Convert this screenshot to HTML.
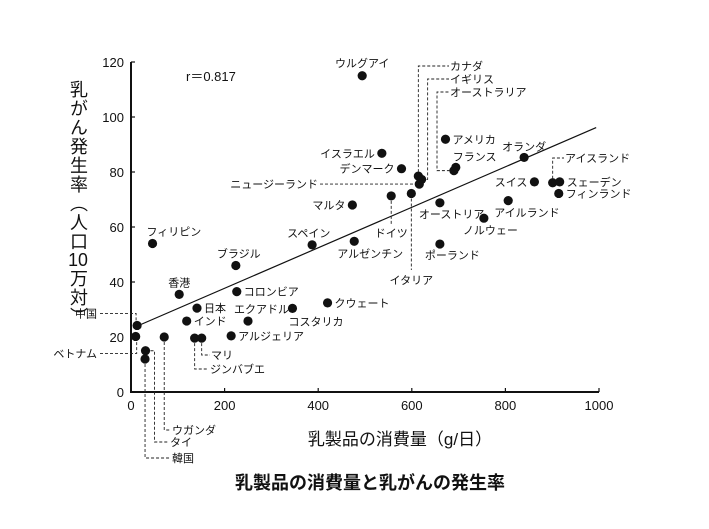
<!DOCTYPE html>
<html><head><meta charset="utf-8"><style>
html,body{margin:0;padding:0;background:#fff;}
body{width:709px;height:524px;position:relative;overflow:hidden;font-family:"Liberation Sans","Noto Sans CJK JP",sans-serif;}
svg text{font-family:"Liberation Sans","Noto Sans CJK JP",sans-serif;fill:#111;}
#ytitle{position:absolute;left:66px;top:80px;writing-mode:vertical-rl;font-size:18px;line-height:24px;color:#111;letter-spacing:1px;}
</style></head><body>
<div id="ytitle">乳がん発生率（人口<span style="text-combine-upright:all">10</span>万対）</div>
<svg id="chart" width="709" height="524"></svg>
<script>
const names=["中国","ベトナム","タイ","韓国","ウガンダ","フィリピン","香港","日本","インド","マリ","ジンバブエ","ブラジル","コロンビア","エクアドル","アルジェリア","コスタリカ","スペイン","クウェート","ウルグアイ","イスラエル","デンマーク","マルタ","アルゼンチン","ドイツ","イタリア","カナダ","イギリス","ニュージーランド","フランス","オーストラリア","アメリカ","オーストリア","ポーランド","ノルウェー","アイルランド","オランダ","スイス","アイスランド","スェーデン","フィンランド"];
const xVals=[13,10,31,30,71,46,103,141,119,151,136,224,226,250,214,345,387,420,494,536,578,473,477,556,599,614,621,616,694,690,672,660,660,754,806,840,862,901,916,914];
const yVals=[24.2,20.2,15,12,20,54,35.5,30.5,25.8,19.6,19.6,46,36.5,25.8,20.4,30.4,53.5,32.4,115,86.8,81.2,68,54.8,71.3,72.2,78.5,77.3,75.6,81.7,80.5,91.9,68.8,53.8,63.2,69.6,85.3,76.4,76.1,76.4,72.2];
const xTicks=[0,200,400,600,800,1000];
const yTicks=[0,20,40,60,80,100,120];
const trend=[23.0,0.0736];
// label placement: [mode, dx, dy] ; modes: r=right, l=left, a=anchored start offset, c=centered, k=leader
const lab={"中国":["k"],"ベトナム":["k"],"タイ":["k"],"韓国":["k"],"ウガンダ":["k"],"マリ":["k"],"ジンバブエ":["k"],"カナダ":["k"],"イギリス":["k"],"ニュージーランド":["k"],"オーストラリア":["k"],"ドイツ":["k"],"イタリア":["k"],"アイスランド":["k"],
"フィリピン":["a",-6,-8],"香港":["a",-11,-8],"ブラジル":["a",-19,-8],"スペイン":["a",-25,-8],"エクアドル":["a",-14,-8],"コスタリカ":["a",-4,17],"ウルグアイ":["c",0,-9],"アルゼンチン":["a",-17,16],"オーストリア":["a",-21,15],"ポーランド":["a",-15,15],"ノルウェー":["a",-21,16],"アイルランド":["a",-14,16],"オランダ":["a",-22,-7],"フランス":["a",-3,-7],
"イスラエル":["l"],"デンマーク":["l"],"マルタ":["l"],"スイス":["l"]};
const X0=131,X1=599,Y0=392,Y1=62;
const sx=v=>X0+(v-0)/1000*(X1-X0);
const sy=v=>Y0-(v-0)/120*(Y0-Y1);
const svg=document.getElementById('chart');
const NS="http://www.w3.org/2000/svg";
function mk(t,a){const e=document.createElementNS(NS,t);for(const k in a)e.setAttribute(k,a[k]);svg.appendChild(e);return e;}
// axes
let e=mk('line',{x1:X0,y1:Y1,x2:X0,y2:Y0+1,stroke:'#111','stroke-width':2});


e=mk('line',{x1:X0-1,y1:Y0,x2:X1,y2:Y0,stroke:'#111','stroke-width':2});


xTicks.forEach(t=>{
 e=mk('line',{x1:sx(t),y1:Y0,x2:sx(t),y2:Y0-4,stroke:'#111','stroke-width':1.2});
 
 
 e=mk('text',{x:sx(t),y:Y0+18,'text-anchor':'middle','font-size':13});e.textContent=t;
 
 
});
yTicks.forEach(t=>{
 e=mk('line',{x1:X0,y1:sy(t),x2:X0+4,y2:sy(t),stroke:'#111','stroke-width':1.2});
 
 
 e=mk('text',{x:X0-7,y:sy(t)+5,'text-anchor':'end','font-size':13});e.textContent=t;
 
 
});
// trend line
e=mk('line',{x1:sx(13),y1:sy(trend[0]+trend[1]*13),x2:sx(994),y2:sy(trend[0]+trend[1]*994),stroke:'#111','stroke-width':1.2});


function txt(x,y,s,anchor){const t=mk('text',{x:x,y:y,'font-size':11,'text-anchor':anchor||'start'});t.textContent=s;
 
 
 return t;}
function dash(pts){const p=mk('polyline',{points:pts.map(q=>q.join(',')).join(' '),fill:'none',stroke:'#222','stroke-width':0.9,'stroke-dasharray':'3,2'});
 
 }
// leader definitions relative to point px,py
const leaders={
"中国":(px,py)=>{dash([[100,py-12],[px-1,py-12],[px-1,py-4]]);txt(97,py-8,"中国","end");},
"ベトナム":(px,py)=>{dash([[100,py+17],[px+1,py+17],[px+1,py+5]]);txt(97,py+21,"ベトナム","end");},
"タイ":(px,py)=>{dash([[px+5,py],[px+9,py],[px+9,442],[168,442]]);txt(170,446,"タイ");},
"韓国":(px,py)=>{dash([[px,py+5],[px,458],[170,458]]);txt(172,462,"韓国");},
"ウガンダ":(px,py)=>{dash([[px,py+5],[px,430],[171,430]]);txt(172,434,"ウガンダ");},
"マリ":(px,py)=>{dash([[px,py+5],[px,355],[210,355]]);txt(211,359,"マリ");},
"ジンバブエ":(px,py)=>{dash([[px,py+5],[px,369],[208,369]]);txt(210,373,"ジンバブエ");},
"カナダ":(px,py)=>{dash([[px,py-4],[px,66],[449,66]]);txt(450,70,"カナダ");},
"イギリス":(px,py)=>{dash([[px+5,py],[px+6,py],[px+6,79],[449,79]]);txt(450,83,"イギリス");},
"ニュージーランド":(px,py)=>{dash([[320,py],[px-5,py]]);txt(318,py+4,"ニュージーランド","end");},
"オーストラリア":(px,py)=>{dash([[px-4,py],[437,py],[437,92],[449,92]]);txt(450,96,"オーストラリア");},
"ドイツ":(px,py)=>{dash([[px,py+5],[px,224]]);txt(px,237,"ドイツ","middle");},
"イタリア":(px,py)=>{dash([[px,py+5],[px,270]]);txt(px,284,"イタリア","middle");},
"アイスランド":(px,py)=>{dash([[px,py-4],[px,158],[564,158]]);txt(565,162,"アイスランド");}
};
names.forEach((n,i)=>{
 const px=sx(xVals[i]),py=sy(yVals[i]);
 const c=mk('circle',{cx:px,cy:py,r:4.6,fill:'#111'});
 
 
 const l=lab[n]||["r"];
 if(l[0]==="k")leaders[n](px,py);
 else if(l[0]==="r")txt(px+7,py+4,n);
 else if(l[0]==="l")txt(px-7,py+4,n,"end");
 else if(l[0]==="c")txt(px+l[1],py+l[2],n,"middle");
 else txt(px+l[1],py+l[2],n);
});
e=mk('text',{x:186,y:81,'font-size':13});e.textContent="r＝0.817";


e=mk('text',{x:400,y:445,'font-size':17,'text-anchor':'middle'});e.textContent="乳製品の消費量（g/日）";


e=mk('text',{x:370,y:489,'font-size':18,'font-weight':'bold','text-anchor':'middle'});e.textContent="乳製品の消費量と乳がんの発生率";


</script>
</body></html>
